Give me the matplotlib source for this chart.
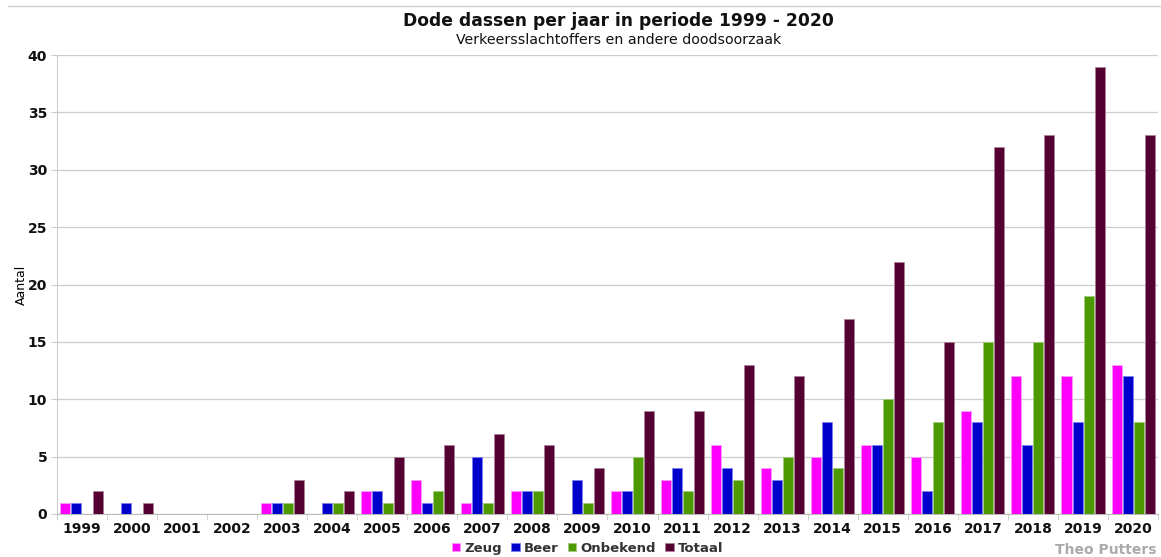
import numpy as np
import matplotlib
matplotlib.use("Agg")
import matplotlib.pyplot as plt
from matplotlib.lines import Line2D

years = ["1999", "2000", "2001", "2002", "2003", "2004", "2005", "2006", "2007", "2008", "2009",
         "2010", "2011", "2012", "2013", "2014", "2015", "2016", "2017", "2018", "2019", "2020"]
zeug = [1, 0, 0, 0, 1, 0, 2, 3, 1, 2, 0, 2, 3, 6, 4, 5, 6, 5, 9, 12, 12, 13]
beer = [1, 1, 0, 0, 1, 1, 2, 1, 5, 2, 3, 2, 4, 4, 3, 8, 6, 2, 8, 6, 8, 12]
onbekend = [0, 0, 0, 0, 1, 1, 1, 2, 1, 2, 1, 5, 2, 3, 5, 4, 10, 8, 15, 15, 19, 8]
totaal = [2, 1, 0, 0, 3, 2, 5, 6, 7, 6, 4, 9, 9, 13, 12, 17, 22, 15, 32, 33, 39, 33]

series = [("Zeug", zeug, "#ff00ff", "#ff99ff"),
          ("Beer", beer, "#0000cc", "#8080ee"),
          ("Onbekend", onbekend, "#4c9900", "#a0cc80"),
          ("Totaal", totaal, "#550033", "#aa8099")]

fig = plt.figure(figsize=(11.61, 5.57), dpi=100)
ax = fig.add_axes([0.049, 0.0772, 0.9485, 0.824])

x = np.arange(len(years))
w = 0.2
step = 0.22
for i, (name, vals, col, edge) in enumerate(series):
    ax.bar(x + (i - 1.5) * step, vals, width=w, color=col, edgecolor=edge,
           linewidth=0.6, label=name, zorder=3)

ax.set_xlim(-0.5, len(years) - 0.5)
ax.set_ylim(0, 40)
ax.set_yticks(range(0, 41, 5))
ax.set_xticks(x)
ax.set_xticklabels(years)
ax.set_xticks(np.arange(-0.5, len(years), 1), minor=True)
ax.tick_params(axis="x", which="major", length=0, pad=6)
ax.tick_params(axis="x", which="minor", length=4, color="#cccccc")
ax.tick_params(axis="y", length=4, color="#cccccc", pad=3)
for lab in ax.get_xticklabels() + ax.get_yticklabels():
    lab.set_fontweight("bold")
    lab.set_fontsize(10)
    lab.set_color("#111111")

ax.grid(axis="y", color="#cccccc", linewidth=0.9, zorder=0)
ax.spines["top"].set_visible(False)
ax.spines["right"].set_visible(False)
ax.spines["left"].set_color("#cccccc")
ax.spines["bottom"].set_color("#bbbbbb")

ax.set_ylabel("Aantal", fontsize=9)
ax.yaxis.set_label_coords(-0.026, 0.5)

fig.text(0.533, 0.963, "Dode dassen per jaar in periode 1999 - 2020", ha="center", va="center",
         fontsize=12.3, fontweight="bold", color="#111111")
fig.text(0.533, 0.928, "Verkeersslachtoffers en andere doodsoorzaak", ha="center", va="center",
         fontsize=10.2, color="#111111")

fig.add_artist(Line2D([0.007, 1.0], [0.989, 0.989], color="#cccccc", linewidth=1))

handles, labels = ax.get_legend_handles_labels()
leg = fig.legend(handles, labels, loc="center", bbox_to_anchor=(0.506, 0.016), ncol=4, frameon=False,
                 handlelength=0.65, handleheight=0.65, handletextpad=0.3, columnspacing=0.7,
                 prop={"weight": "bold", "size": 9.5})
for t in leg.get_texts():
    t.set_color("#333333")

fig.text(0.996, 0.013, "Theo Putters", ha="right", va="center", fontsize=10,
         fontweight="bold", color="#aaaaaa")

fig.savefig("out.png", dpi=100)
